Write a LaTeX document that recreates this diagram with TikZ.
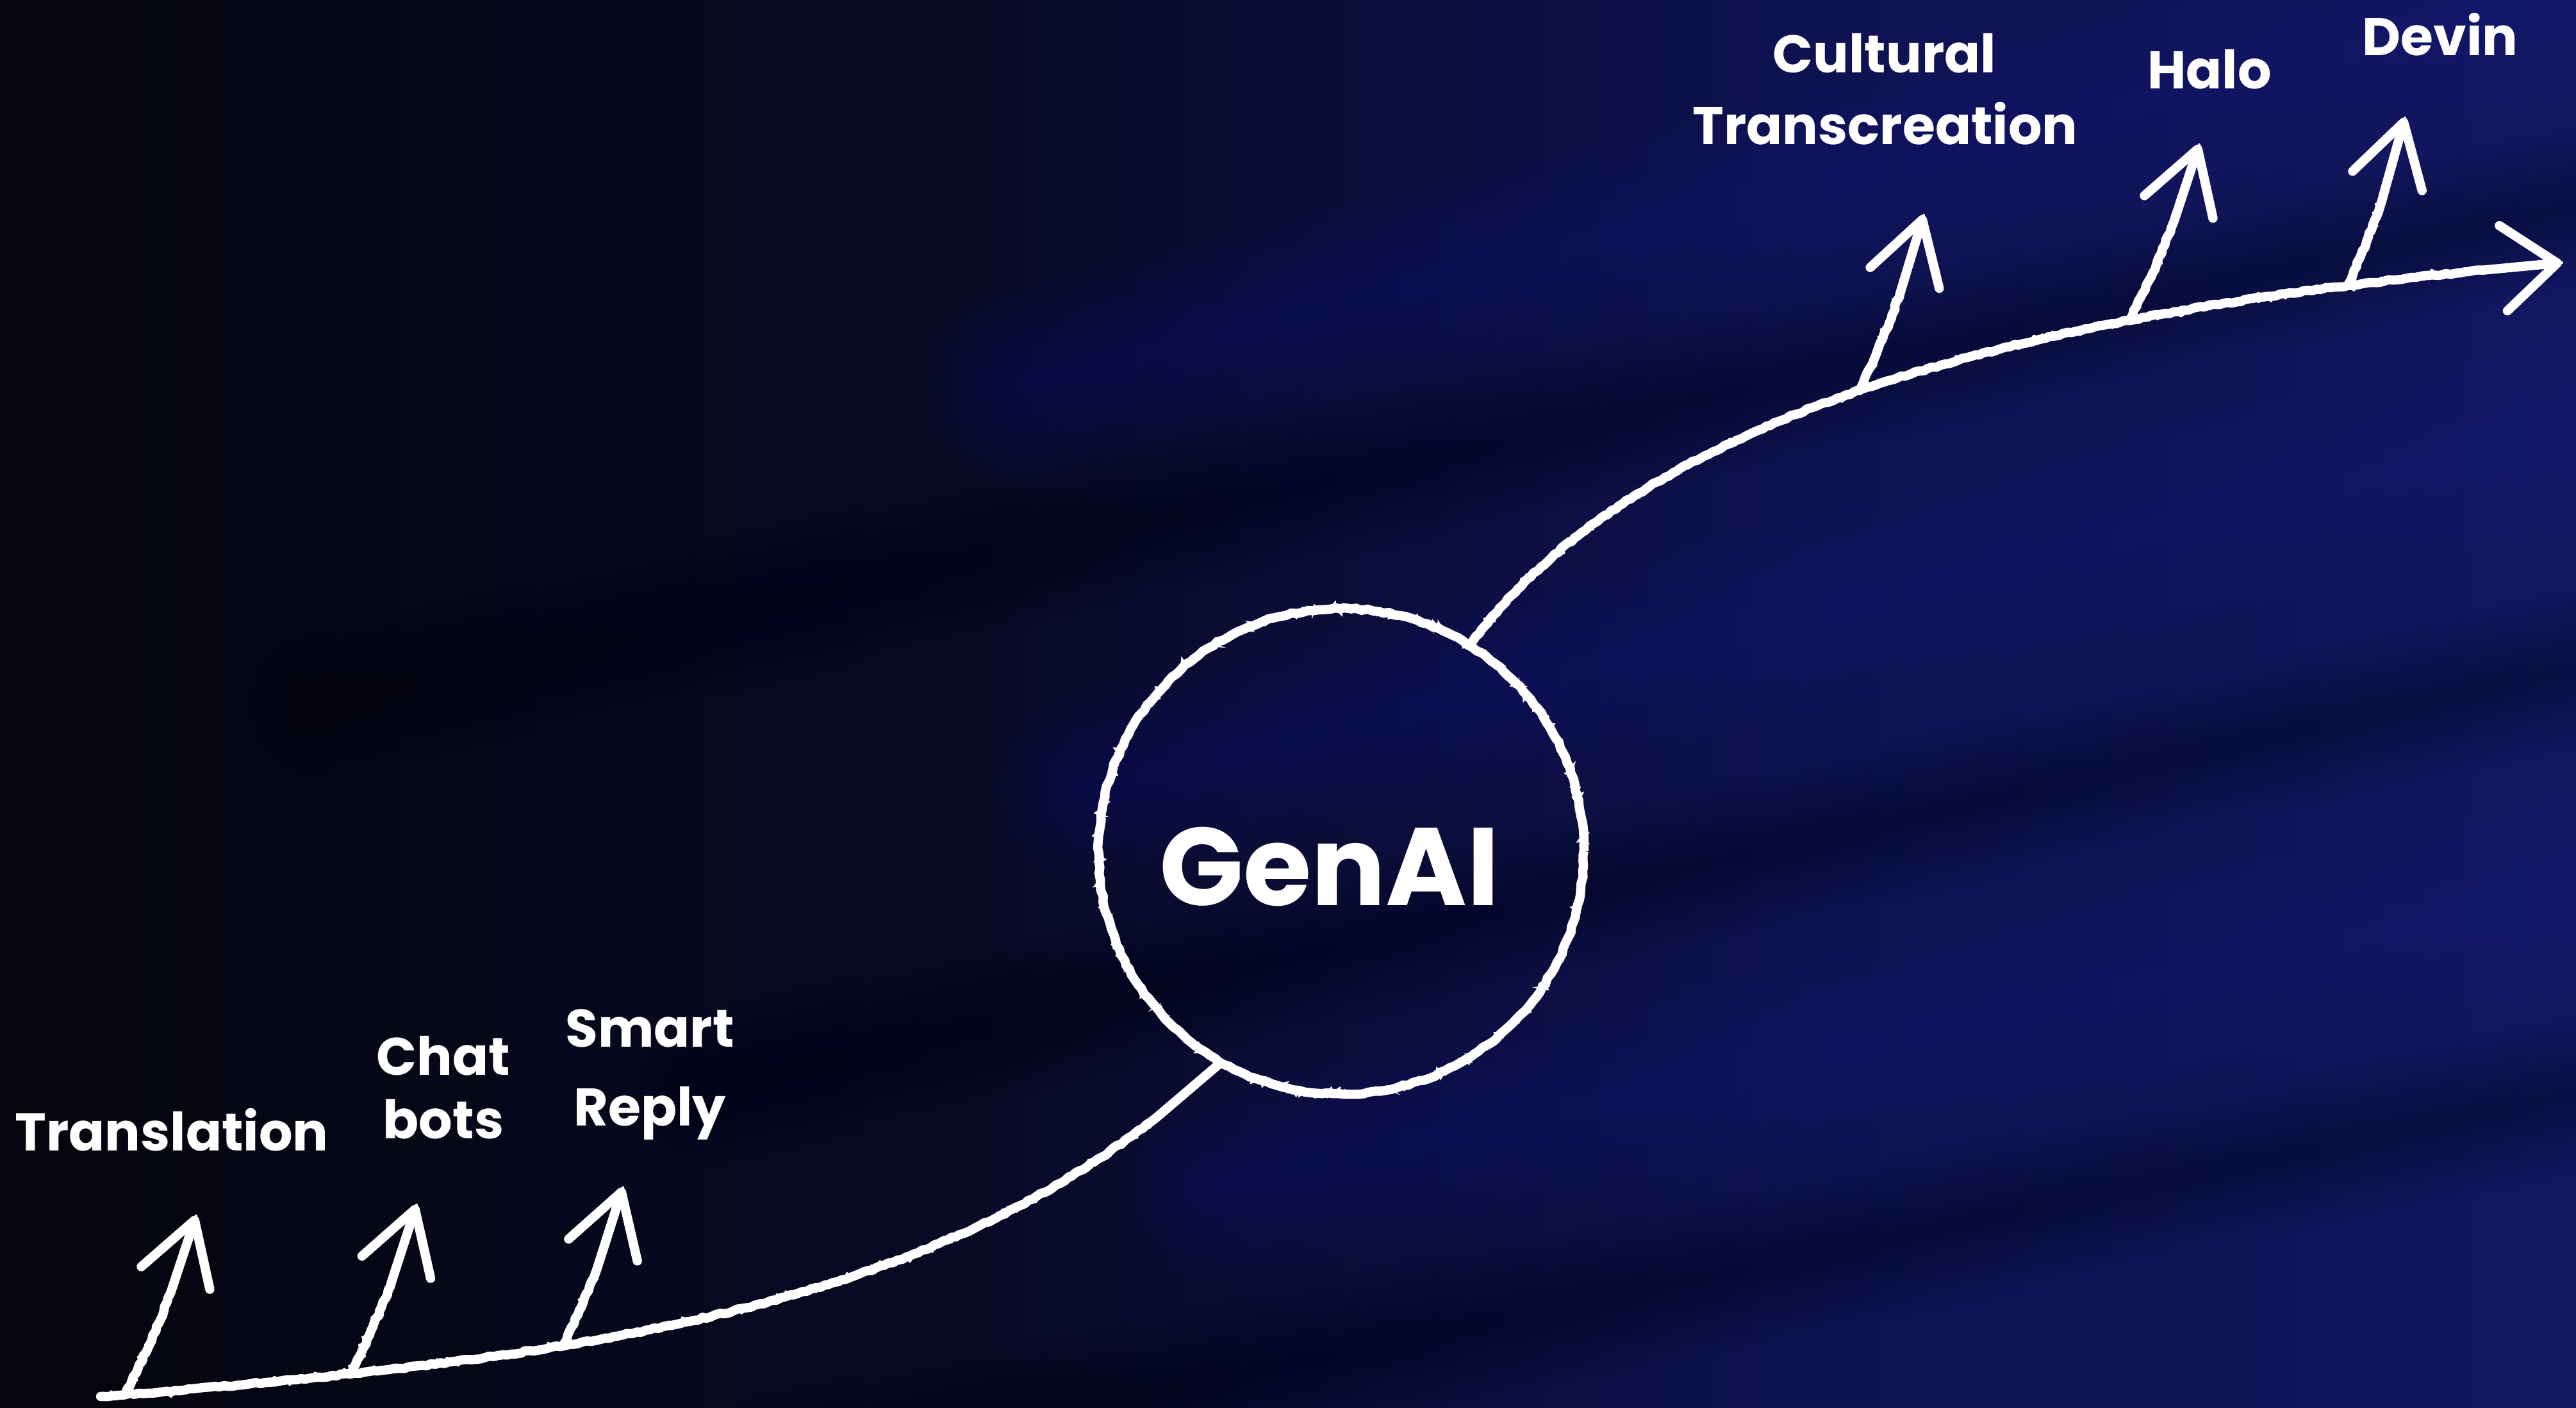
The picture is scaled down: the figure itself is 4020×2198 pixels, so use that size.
\documentclass[tikz,border=0pt]{standalone}
\usepackage{fontspec}
\setmainfont{Poppins}
\usetikzlibrary{arrows.meta,decorations.pathmorphing}
\definecolor{bgA}{HTML}{04050E}
\definecolor{bgB}{HTML}{080A26}
\definecolor{bgC}{HTML}{0E1250}
\definecolor{bgD}{HTML}{131968}
\definecolor{streakdark}{HTML}{02030A}
\definecolor{streaklight}{HTML}{1A2188}
\pgfdeclarehorizontalshading{bgshade}{100bp}{color(0bp)=(bgA); color(26bp)=(bgA); color(44bp)=(bgB); color(60bp)=(bgC); color(80bp)=(bgD); color(100bp)=(bgD)}
\newcommand\softband[4]{\foreach \k in {1,...,8}{\draw[#1, opacity=0.045, line width=\k*#4/8, line cap=round] #2 -- #3;}}
\begin{document}
\begin{tikzpicture}[x=0.01cm, y=-0.01cm,
  fuzz/.style={postaction={draw=white, -, line width=1.2pt, line cap=round,
    decorate, decoration={random steps, segment length=1.3pt, amplitude=2.2pt}}},
  chalkline/.style={draw=white, line width=4.1pt, line cap=round, line join=round,
    decorate, decoration={random steps, segment length=2pt, amplitude=0.4pt, pre length=1pt, post length=36pt}},
  chalkarrow/.style={chalkline, fuzz, -{Straight Barb[length=27pt, width=32pt, round]}},
  mainarrow/.style={chalkline, fuzz, -{Straight Barb[length=24pt, width=38pt, round]}},
  lbl/.style={text=white, font=\fontsize{23.5}{28}\selectfont\bfseries, inner sep=0pt, anchor=base},
  hub/.style={circle, draw=white, line width=4.1pt, minimum size=7.57cm, inner sep=0pt,
    decorate, decoration={random steps, segment length=2.5pt, amplitude=0.4pt}, fuzz},
  hubtext/.style={text=white, font=\fontsize{49}{56}\selectfont\bfseries, inner sep=0pt, anchor=base}]
\pgfmathsetseed{11}
% background
\useasboundingbox (0,0) rectangle (4020,2198);
\shade[shading=bgshade] (0,0) rectangle (4020,2198);
\begin{scope}
\clip (0,0) rectangle (4020,2198);
\softband{streaklight}{(1600,600)}{(4300,-80)}{3cm}
\softband{streakdark}{(500,1100)}{(4300,260)}{2.4cm}
\softband{streaklight}{(1700,1230)}{(4300,600)}{3cm}
\softband{streakdark}{(1100,1700)}{(4300,980)}{2.4cm}
\softband{streaklight}{(1900,1850)}{(4300,1330)}{3cm}
\softband{streakdark}{(1200,2300)}{(4300,1650)}{2.4cm}
\end{scope}
% hub
\node[hub] (genai) at (2093,1329) {};
\node[hubtext] (genaitext) at (2075,1413) {GenAI};
% main curve
\coordinate (start) at (157,2180);
\coordinate (mainend) at (3998,410);
\draw[chalkline, fuzz] (start) .. controls (957,2118) and (1500,2035) .. (genai.240)
  coordinate[pos=0.016] (b1) coordinate[pos=0.172] (b2) coordinate[pos=0.335] (b3);
\draw[mainarrow] (genai.58) .. controls (2600,601) and (3293,473) .. (mainend)
  coordinate[pos=0.446] (b4) coordinate[pos=0.673] (b5) coordinate[pos=0.841] (b6);
% tips of small arrows
\coordinate (t1) at (306,1898);
\coordinate (t2) at (650,1881);
\coordinate (t3) at (972,1854);
\coordinate (t4) at (3002,336);
\coordinate (t5) at (3432,226);
\coordinate (t6) at (3753,184);
\foreach \i in {1,...,6}{\draw[chalkarrow] (b\i) to[bend right=5] (t\i);}
% labels
\node[lbl] (translation) at (268,1796) {Translation};
\node[lbl] (chat) at (692,1678) {Chat};
\node[lbl] (bots) at (692,1777) {bots};
\node[lbl] (smart) at (1014,1634) {Smart};
\node[lbl] (reply) at (1014,1757) {Reply};
\node[lbl] (cultural) at (2941,114) {Cultural};
\node[lbl] (transcreation) at (2942,226) {Transcreation};
\node[lbl] (halo) at (3448,139) {Halo};
\node[lbl] (devin) at (3808,87) {Devin};
\end{tikzpicture}
\end{document}
